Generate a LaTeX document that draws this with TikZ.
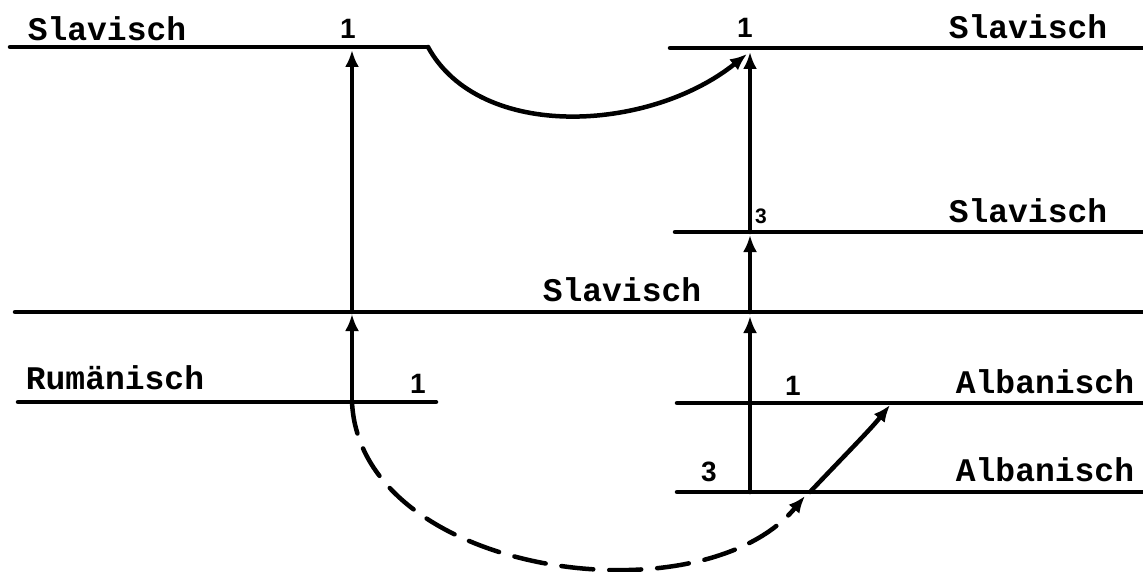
\documentclass[tikz,border=0pt]{standalone}
\usepackage{fontspec}
\setmonofont{Liberation Mono}
\setsansfont{Liberation Sans}
\usetikzlibrary{arrows.meta}
\begin{document}
\begin{tikzpicture}[x=1pt,y=-1pt, line width=4.5pt, line cap=round,
  lang/.style={font=\ttfamily\bfseries\fontsize{33}{33}\selectfont, inner sep=0pt},
  num/.style={font=\sffamily\bfseries\fontsize{28}{28}\selectfont, inner sep=0pt},
  smallnum/.style={font=\sffamily\bfseries\fontsize{21}{21}\selectfont, inner sep=0pt},
  conn/.style={-{Latex[length=17pt,width=14pt]}},
  ]
\useasboundingbox (0,0) rectangle (1143,572);
% horizontal levels
\coordinate (TLa) at (10,47);   \coordinate (TLb) at (428,47);
\coordinate (TRa) at (670,48);  \coordinate (TRb) at (1146,48);
\coordinate (S3a) at (675,232); \coordinate (S3b) at (1146,232);
\coordinate (Ma) at (15,312);   \coordinate (Mb) at (1146,312);
\coordinate (Ra) at (18,402);   \coordinate (Rb) at (436,402);
\coordinate (A1a) at (677,403); \coordinate (A1b) at (1146,403);
\coordinate (A3a) at (677,492); \coordinate (A3b) at (1146,492);
\draw (TLa) -- (TLb);
\draw (TRa) -- (TRb);
\draw (S3a) -- (S3b);
\draw (Ma) -- (Mb);
\draw (Ra) -- (Rb);
\draw (A1a) -- (A1b);
\draw (A3a) -- (A3b);
% left vertical
\coordinate (LR) at (352,402);
\coordinate (LM) at (352,312);
\coordinate (LMt) at (352,314);
\coordinate (LT) at (352,50);
\draw[conn] (LR) -- (LMt);
\draw[conn] (LM) -- (LT);
% right vertical
\coordinate (RA3) at (750,492);
\coordinate (RMt) at (750,316);
\coordinate (RM) at (750,312);
\coordinate (RS3t) at (750,235);
\coordinate (RS3) at (750,232);
\coordinate (RT) at (750,52);
\draw[conn] (RA3) -- (RMt);
\draw[conn] (RM) -- (RS3t);
\draw[conn] (RS3) -- (RT);
% curves
\coordinate (TopEnd) at (747,54);
\draw[conn] (TLb) .. controls (480,142) and (650,132) .. (TopEnd);
\coordinate (Cs) at (810,492);
\coordinate (Ce) at (890,405);
\draw[conn] (Cs) .. controls (845,455) and (870,430) .. (Ce);
\coordinate (De) at (805,496);
\draw[conn, dash pattern=on 32pt off 16pt] (LR) .. controls (360,575) and (700,622) .. (De);
% labels
\node[lang] (l1) at (107,29) {Slavisch};
\node[lang] (l2) at (1028,27) {Slavisch};
\node[lang] (l3) at (1028,211) {Slavisch};
\node[lang] (l4) at (622,290) {Slavisch};
\node[lang] (l5) at (115,378) {Rumänisch};
\node[lang] (l6) at (1045,382) {Albanisch};
\node[lang] (l7) at (1045,470) {Albanisch};
\node[num] (n1) at (348,29) {1};
\node[num] (n2) at (745,28) {1};
\node[smallnum] (n3) at (761,216) {3};
\node[num] (n4) at (418,384) {1};
\node[num] (n5) at (793,386) {1};
\node[num] (n6) at (709,472) {3};
\end{tikzpicture}
\end{document}
